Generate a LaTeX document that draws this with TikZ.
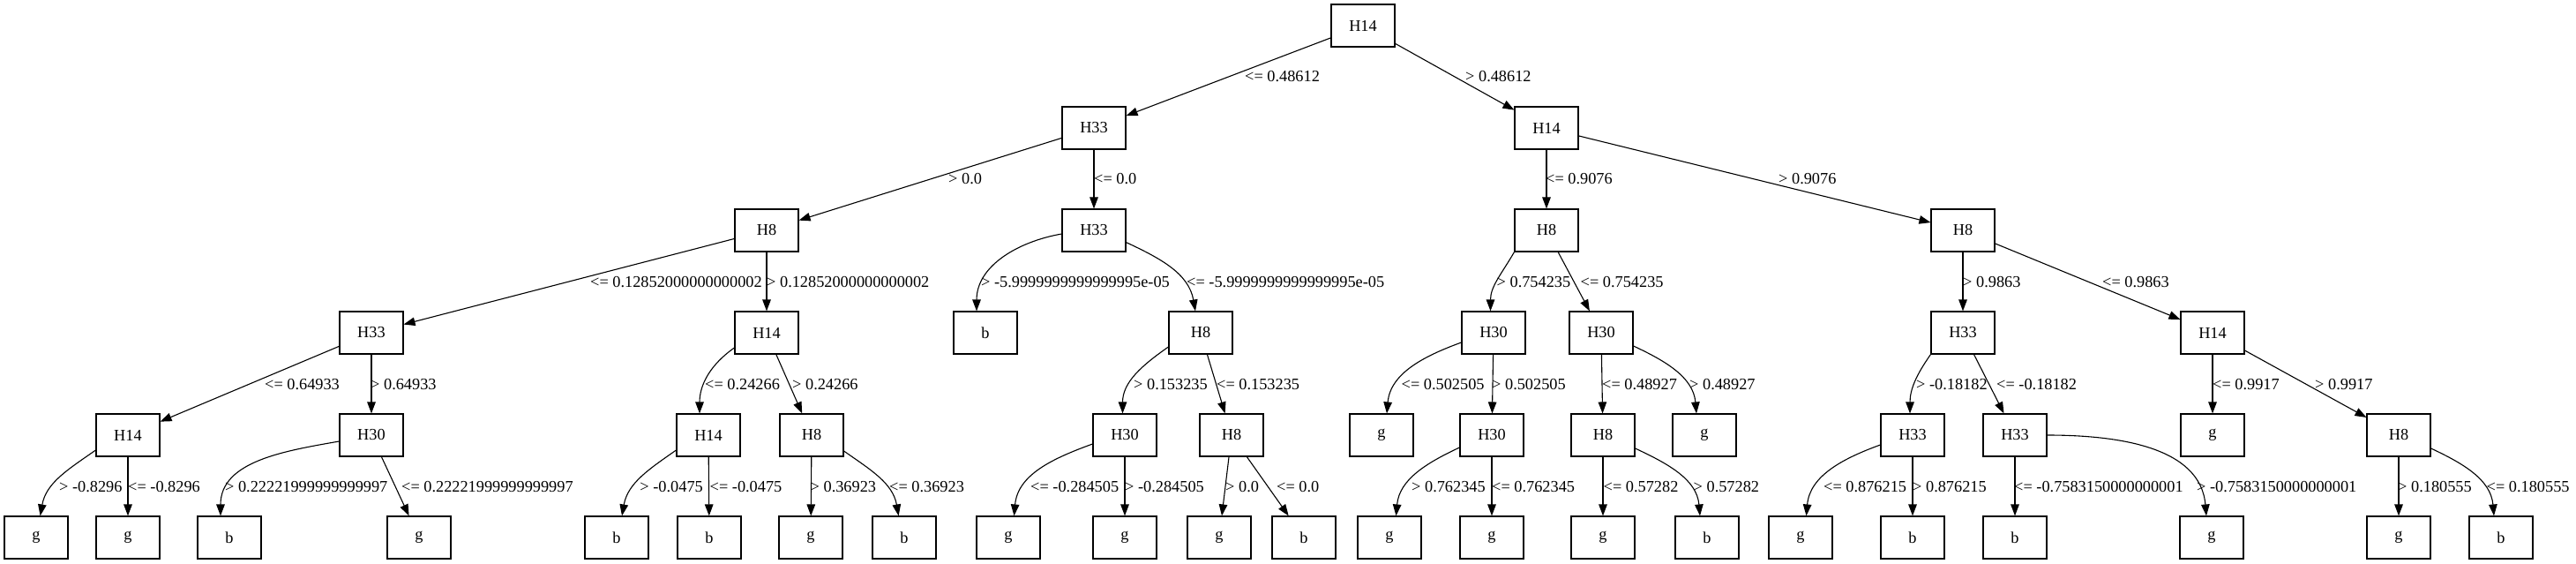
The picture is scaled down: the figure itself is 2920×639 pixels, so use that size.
\documentclass[tikz,border=0pt]{standalone}
\usepackage{fontspec}
\setmainfont{Liberation Serif}
\usetikzlibrary{arrows.meta}
\begin{document}
\begin{tikzpicture}[x=1pt,y=1pt,
  txt/.style={font=\fontsize{18.3}{22}\selectfont},
  box/.style={txt, draw, line width=1.1pt, minimum width=72pt, minimum height=48pt, inner sep=0pt},
  edge/.style={line width=1.1pt, -{Triangle[length=13pt,width=9.5pt]}},
  lbl/.style={txt, anchor=base west, inner sep=0pt},
  lble/.style={txt, anchor=base east, inner sep=0pt}]
\useasboundingbox (0,0) rectangle (2920,-639);
% level 0
\node[box] (r) at (1545,-29) {H14};
% level 1
\node[box] (a) at (1240,-145) {H33};
\node[box] (b) at (1753,-145) {H14};
% level 2
\node[box] (aa) at (869,-261) {H8};
\node[box] (ab) at (1240,-261) {H33};
\node[box] (ba) at (1753,-261) {H8};
\node[box] (bb) at (2225,-261) {H8};
% level 3
\node[box] (aaa) at (421,-377) {H33};
\node[box] (aab) at (869,-377) {H14};
\node[box] (aba) at (1117,-377) {b};
\node[box] (abb) at (1361,-377) {H8};
\node[box] (baa) at (1693,-377) {H30};
\node[box] (bab) at (1815,-377) {H30};
\node[box] (bba) at (2225,-377) {H33};
\node[box] (bbb) at (2508,-377) {H14};
% level 4
\node[box] (aaaa) at (145,-493) {H14};
\node[box] (aaab) at (421,-493) {H30};
\node[box] (aaba) at (803,-493) {H14};
\node[box] (aabb) at (920,-493) {H8};
\node[box] (abba) at (1275,-493) {H30};
\node[box] (abbb) at (1396,-493) {H8};
\node[box] (baaa) at (1566,-493) {g};
\node[box] (baab) at (1691,-493) {H30};
\node[box] (baba) at (1817,-493) {H8};
\node[box] (babb) at (1932,-493) {g};
\node[box] (bbaa) at (2168,-493) {H33};
\node[box] (bbab) at (2284,-493) {H33};
\node[box] (bbba) at (2508,-493) {g};
\node[box] (bbbb) at (2719,-493) {H8};
% level 5
\node[box] (l1) at (41,-609) {g};
\node[box] (l2) at (145,-609) {g};
\node[box] (l3) at (260,-609) {b};
\node[box] (l4) at (475,-609) {g};
\node[box] (l5) at (699,-609) {b};
\node[box] (l6) at (804,-609) {b};
\node[box] (l7) at (919,-609) {g};
\node[box] (l8) at (1025,-609) {b};
\node[box] (l9) at (1143,-609) {g};
\node[box] (l10) at (1275,-609) {g};
\node[box] (l11) at (1382,-609) {g};
\node[box] (l12) at (1478,-609) {b};
\node[box] (l13) at (1575,-609) {g};
\node[box] (l14) at (1691,-609) {g};
\node[box] (l15) at (1817,-609) {g};
\node[box] (l16) at (1935,-609) {b};
\node[box] (l17) at (2041,-609) {g};
\node[box] (l18) at (2168,-609) {b};
\node[box] (l19) at (2284,-609) {b};
\node[box] (l20) at (2507,-609) {g};
\node[box] (l21) at (2719,-609) {g};
\node[box] (l22) at (2835,-609) {b};
% straight edges
\draw[edge] (r) -- (a);
\draw[edge] (r) -- (b);
\draw[edge] (a) -- (aa);
\draw[edge] (a) -- (ab);
\draw[edge] (b) -- (ba);
\draw[edge] (b) -- (bb);
\draw[edge] (aa) -- (aaa);
\draw[edge] (aa) -- (aab);
\draw[edge] (ba) -- (bab);
\draw[edge] (bb) -- (bba);
\draw[edge] (bb) -- (bbb);
\draw[edge] (aaa) -- (aaaa);
\draw[edge] (aaa) -- (aaab);
\draw[edge] (aab) -- (aabb);
\draw[edge] (abb) -- (abbb);
\draw[edge] (baa) -- (baab);
\draw[edge] (bab) -- (baba);
\draw[edge] (bba) -- (bbab);
\draw[edge] (bbb) -- (bbba);
\draw[edge] (bbb) -- (bbbb);
\draw[edge] (aaaa) -- (l2);
\draw[edge] (aaab) -- (l4);
\draw[edge] (aaba) -- (l6);
\draw[edge] (aabb) -- (l7);
\draw[edge] (abba) -- (l10);
\draw[edge] (abbb) -- (l11);
\draw[edge] (abbb) -- (l12);
\draw[edge] (baab) -- (l14);
\draw[edge] (baba) -- (l15);
\draw[edge] (bbaa) -- (l18);
\draw[edge] (bbab) -- (l19);
\draw[edge] (bbbb) -- (l21);
% curved edges
\draw[edge] ([yshift=-4pt]ab.west) to[out=190,in=90] ([xshift=-10pt]aba.north);
\draw[edge] ([yshift=-13.6pt]ab.east) to[out=-25,in=100] ([xshift=-6pt]abb.north);
\draw[edge] (ba.south west) to[out=240,in=90] ([xshift=-3.5pt]baa.north);
\draw[edge] ([yshift=-17pt]aab.west) to[out=215,in=90] ([xshift=-10pt]aaba.north);
\draw[edge] ([yshift=-16pt]abb.west) to[out=215,in=90] ([xshift=-2.5pt]abba.north);
\draw[edge] ([yshift=-11pt]baa.west) to[out=200,in=85] ([xshift=6pt]baaa.north);
\draw[edge] ([yshift=-15pt]bab.east) to[out=-25,in=95] ([xshift=-9pt]babb.north);
\draw[edge] (bba.south west) to[out=235,in=90] ([xshift=-3pt]bbaa.north);
\draw[edge] ([yshift=-17pt]aaaa.west) to[out=215,in=80] ([xshift=4.6pt]l1.north);
\draw[edge] ([yshift=-7pt]aaab.west) to[out=190,in=90] ([xshift=-10pt]l3.north);
\draw[edge] ([yshift=-17pt]aaba.west) to[out=215,in=80] ([xshift=6pt]l5.north);
\draw[edge] ([yshift=-18pt]aabb.east) to[out=-35,in=100] ([xshift=-6.4pt]l8.north);
\draw[edge] ([yshift=-10pt]abba.west) to[out=200,in=85] ([xshift=6.5pt]l9.north);
\draw[edge] ([yshift=-14pt]baab.west) to[out=205,in=85] ([xshift=7.5pt]l13.north);
\draw[edge] ([yshift=-15pt]baba.east) to[out=-25,in=95] ([xshift=-8pt]l16.north);
\draw[edge] ([yshift=-11pt]bbaa.west) to[out=200,in=85] ([xshift=6.5pt]l17.north);
\draw[edge] (bbab.east) to[out=0,in=95] ([xshift=-6pt]l20.north);
\draw[edge] ([yshift=-15pt]bbbb.east) to[out=-25,in=95] ([xshift=-8pt]l22.north);
% labels level 0-1
\node[lbl] (t1) at (1411,-93) {<= 0.48612};
\node[lbl] (t2) at (1661,-93) {> 0.48612};
% level 1-2
\node[lbl] (t3) at (1075,-209) {> 0.0};
\node[lbl] (t4) at (1240,-209) {<= 0.0};
\node[lbl] (t5) at (1752,-209) {<= 0.9076};
\node[lbl] (t6) at (2016,-209) {> 0.9076};
% level 2-3
\node[lbl] (t7) at (669,-325) {<= 0.12852000000000002};
\node[lbl] (t8) at (869,-325) {> 0.12852000000000002};
\node[lbl] (t9) at (1112,-325) {> -5.9999999999999995e-05};
\node[lbl] (t10) at (1345,-325) {<= -5.9999999999999995e-05};
\node[lbl] (t11) at (1696.5,-325) {> 0.754235};
\node[lbl] (t12) at (1791.5,-325) {<= 0.754235};
\node[lbl] (t13) at (2225,-325) {> 0.9863};
\node[lbl] (t14) at (2383,-325) {<= 0.9863};
% level 3-4
\node[lbl] (t15) at (300,-441) {<= 0.64933};
\node[lbl] (t16) at (420,-441) {> 0.64933};
\node[lbl] (t17) at (799,-441) {<= 0.24266};
\node[lbl] (t18) at (898,-441) {> 0.24266};
\node[lbl] (t19) at (1285,-441) {> 0.153235};
\node[lbl] (t20) at (1379,-441) {<= 0.153235};
\node[lbl] (t21) at (1588.5,-441) {<= 0.502505};
\node[lbl] (t22) at (1691,-441) {> 0.502505};
\node[lbl] (t23) at (1816,-441) {<= 0.48927};
\node[lbl] (t24) at (1915,-441) {> 0.48927};
\node[lbl] (t25) at (2172,-441) {> -0.18182};
\node[lbl] (t26) at (2263,-441) {<= -0.18182};
\node[lbl] (t27) at (2508,-441) {<= 0.9917};
\node[lbl] (t28) at (2624,-441) {> 0.9917};
% level 4-5
\node[lbl] (t29) at (67,-557) {> -0.8296};
\node[lbl] (t30) at (145,-557) {<= -0.8296};
\node[lbl] (t31) at (255,-557) {> 0.22221999999999997};
\node[lbl] (t32) at (455,-557) {<= 0.22221999999999997};
\node[lble] (t33) at (797,-557) {> -0.0475};
\node[lbl] (t34) at (804.5,-557) {<= -0.0475};
\node[lbl] (t35) at (918.5,-557) {> 0.36923};
\node[lbl] (t36) at (1008,-557) {<= 0.36923};
\node[lbl] (t37) at (1168,-557) {<= -0.284505};
\node[lbl] (t38) at (1275,-557) {> -0.284505};
\node[lbl] (t39) at (1389,-557) {> 0.0};
\node[lbl] (t40) at (1447,-557) {<= 0.0};
\node[lbl] (t41) at (1600,-557) {> 0.762345};
\node[lbl] (t42) at (1691,-557) {<= 0.762345};
\node[lbl] (t43) at (1817.5,-557) {<= 0.57282};
\node[lbl] (t44) at (1919.5,-557) {> 0.57282};
\node[lbl] (t45) at (2067,-557) {<= 0.876215};
\node[lbl] (t46) at (2168,-557) {> 0.876215};
\node[lbl] (t47) at (2283,-557) {<= -0.7583150000000001};
\node[lbl] (t48) at (2490,-557) {> -0.7583150000000001};
\node[lbl] (t49) at (2718,-557) {> 0.180555};
\node[lbl] (t50) at (2818.5,-557) {<= 0.180555};
\end{tikzpicture}
\end{document}
